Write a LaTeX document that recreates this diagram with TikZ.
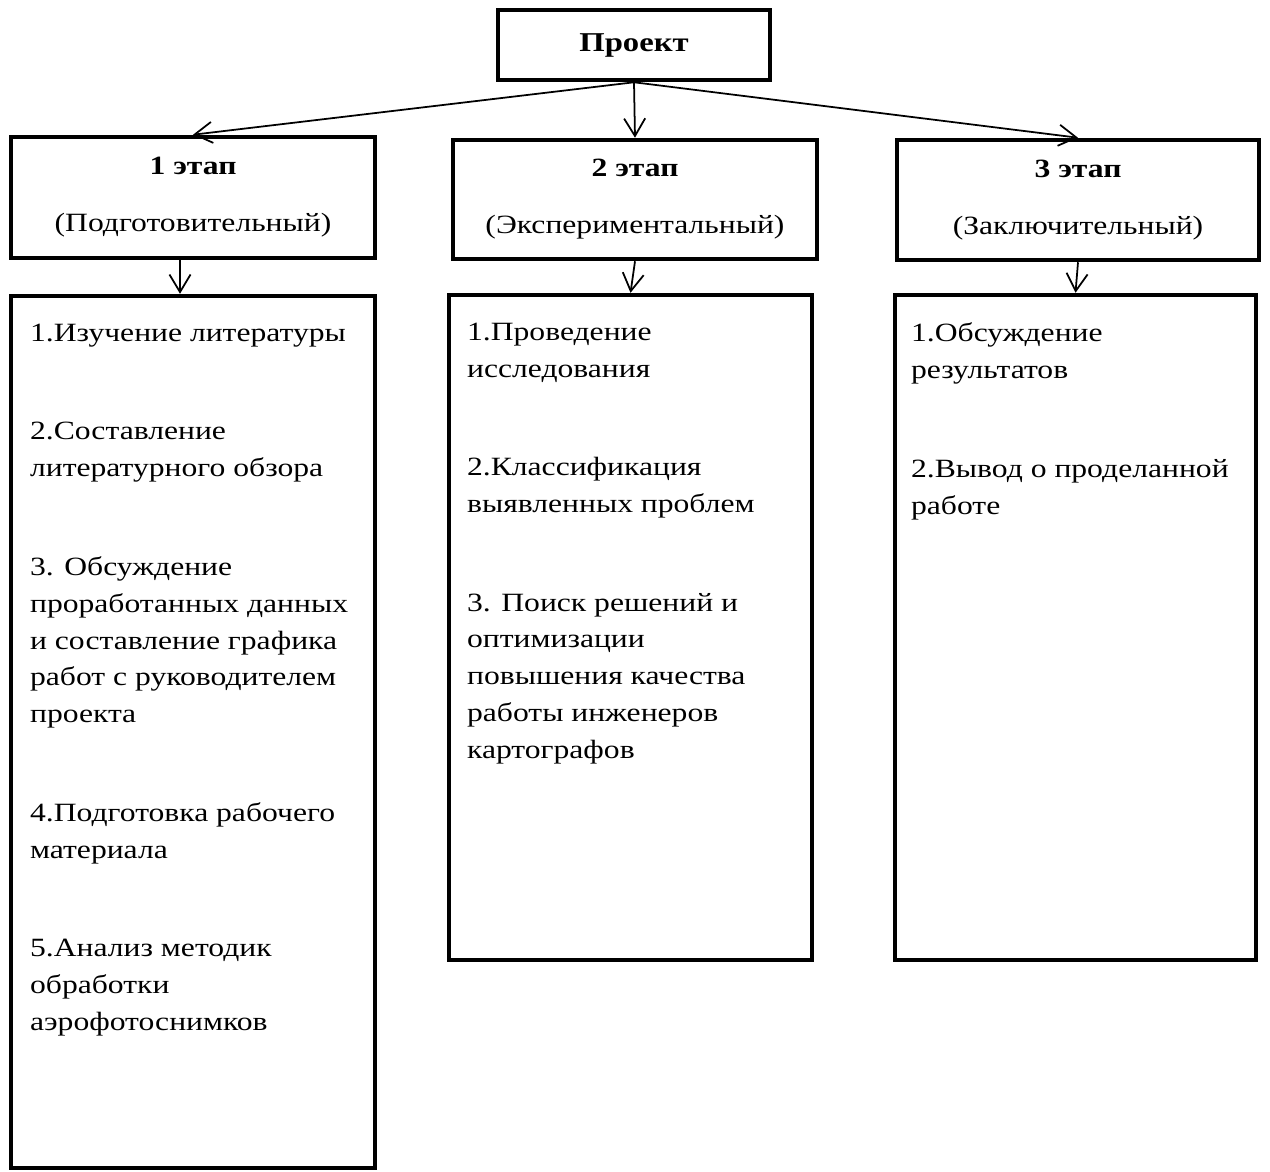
\documentclass[tikz,border=0pt]{standalone}
\usepackage{fontspec}
\setmainfont{Liberation Serif}[FakeStretch=1.2]
\usetikzlibrary{arrows.meta,positioning}

\newcommand{\fsz}{\fontsize{15}{21}\selectfont}

\tikzset{
  box/.style={draw, line width=2.6pt, inner sep=0pt, align=center, font=\fsz},
  items/.style={inner sep=0pt, align=left, font=\fsz},
  arr/.style={-{Straight Barb[length=10pt,width=12pt]}, line width=1pt},
}

\begin{document}
\begin{tikzpicture}[x=0.02cm, y=-0.02cm]
\useasboundingbox (0,0) rectangle (1270,1172);

% project
\node[box, minimum width=5.44cm, minimum height=1.4cm] (proj) at (634,45)
  {\fontsize{15.5}{21}\selectfont\textbf{Проект}};

% stages
\node[box, minimum width=7.28cm, minimum height=2.42cm] (st1) at (193,197.5)
  {\textbf{1 этап}\\[11.5pt](Подготовительный)};
\node[box, minimum width=7.28cm, minimum height=2.38cm] (st2) at (635,199.5)
  {\textbf{2 этап}\\[11.5pt](Экспериментальный)};
\node[box, minimum width=7.24cm, minimum height=2.4cm] (st3) at (1078,200)
  {\textbf{3 этап}\\[11.5pt](Заключительный)};

% lists
\node[box, minimum width=7.28cm, minimum height=17.44cm] (list1) at (193,732) {};
\node[box, minimum width=7.26cm, minimum height=13.3cm] (list2) at (630.5,627.5) {};
\node[box, minimum width=7.22cm, minimum height=13.3cm] (list3) at (1075.5,627.5) {};

\node[items, below right=0.6cm and 0.42cm of list1.north west] (items1)
  {1.Изучение литературы\\[35pt]
   2.Составление\\литературного обзора\\[35pt]
   3. Обсуждение\\проработанных данных\\и составление графика\\работ с руководителем\\проекта\\[35pt]
   4.Подготовка рабочего\\материала\\[35pt]
   5.Анализ методик\\обработки\\аэрофотоснимков};
\node[items, below right=0.6cm and 0.4cm of list2.north west] (items2)
  {1.Проведение\\исследования\\[35pt]
   2.Классификация\\выявленных проблем\\[35pt]
   3. Поиск решений и\\оптимизации\\повышения качества\\работы инженеров\\картографов};
\node[items, below right=0.6cm and 0.36cm of list3.north west] (items3)
  {1.Обсуждение\\результатов\\[35pt]
   2.Вывод о проделанной\\работе};

% arrows
\foreach \s in {st1,st2,st3}
  \draw[arr] (proj.south) -- (\s.north);
\draw[arr] ([xshift=-0.26cm]st1.south) -- ([xshift=-0.26cm]list1.north);
\draw[arr] (st2.south) -- (list2.north);
\draw[arr] (st3.south) -- (list3.north);
\end{tikzpicture}
\end{document}
